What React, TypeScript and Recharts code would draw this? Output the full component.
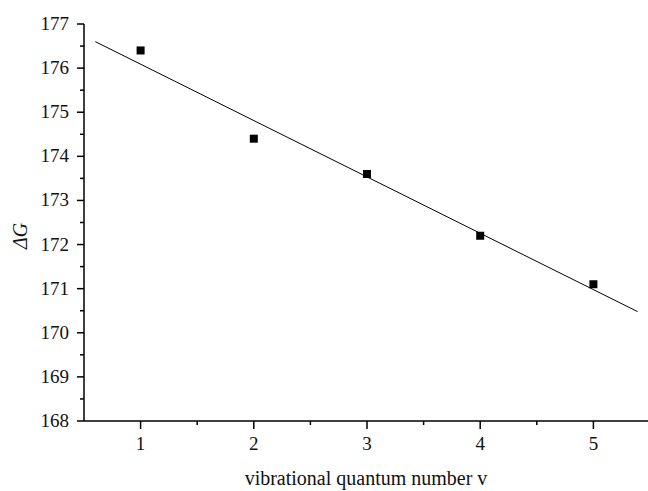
import {Label, Scatter, ScatterChart, XAxis, YAxis} from 'recharts';

const levels = [1, 2, 3, 4, 5];
const deltaG = [176.4, 174.4, 173.6, 172.2, 171.1];
const fitX = [0.6, 5.39];
const fitY = [176.6, 170.48];
const xTicks = [0.5, 1, 1.5, 2, 2.5, 3, 3.5, 4, 4.5, 5, 5.5];
const yTicks = [
  168, 168.5, 169, 169.5, 170, 170.5, 171, 171.5, 172, 172.5, 173, 173.5,
  174, 174.5, 175, 175.5, 176, 176.5, 177,
];

const points = levels.map((v, i) => ({x: v, y: deltaG[i]}));
const fitLine = fitX.map((v, i) => ({x: v, y: fitY[i]}));

const textStyle = {fontFamily: "'Liberation Serif', serif", fill: '#111'};

function XTick({x, y, payload}: any) {
  const major = Number.isInteger(payload.value);
  if (payload.value < 0.75 || payload.value > 5.25) return null;
  return (
    <g>
      <line x1={x} x2={x} y1={y} y2={y + (major ? 8 : 4)} stroke="#000" strokeWidth={1.5} />
      {major && (
        <text x={x} y={y + 29} textAnchor="middle" fontSize={19} style={textStyle}>
          {payload.value}
        </text>
      )}
    </g>
  );
}

function YTick({x, y, payload}: any) {
  const major = Number.isInteger(payload.value);
  return (
    <g>
      <line x1={x} x2={x - (major ? 7 : 4)} y1={y} y2={y} stroke="#000" strokeWidth={1.5} />
      {major && (
        <text x={x - 15} y={y + 6} textAnchor="end" fontSize={19} style={textStyle}>
          {payload.value}
        </text>
      )}
    </g>
  );
}

const square = (props: any) => (
  <rect x={props.cx - 4} y={props.cy - 4} width={8} height={8} fill="#000" />
);

export default function App() {
  return (
    <div
      style={{
        position: 'absolute',
        left: 0,
        top: 0,
        width: 648,
        height: 491,
        overflow: 'hidden',
        background: '#fff',
      }}
    >
      <ScatterChart width={650} height={491} margin={{top: 24, right: 0, bottom: 0, left: 0}}>
        <XAxis
          type="number"
          dataKey="x"
          domain={[0.5, 5.5]}
          ticks={xTicks}
          interval={0}
          height={70}
          tickSize={0}
          tickMargin={0}
          tickLine={false}
          tick={<XTick />}
          axisLine={{stroke: '#000', strokeWidth: 1.5}}
        >
          <Label
            content={() => (
              <text x={366} y={485} textAnchor="middle" fontSize={20} style={textStyle}>
                vibrational quantum number v
              </text>
            )}
          />
        </XAxis>
        <YAxis
          type="number"
          dataKey="y"
          domain={[168, 177]}
          ticks={yTicks}
          interval={0}
          width={84}
          tickSize={0}
          tickMargin={0}
          tickLine={false}
          tick={<YTick />}
          axisLine={{stroke: '#000', strokeWidth: 1.5}}
        >
          <Label
            content={() => (
              <text
                x={27}
                y={236}
                textAnchor="middle"
                transform="rotate(-90 27 236)"
                fontStyle="italic"
                fontSize={20}
                style={textStyle}
              >
                ΔG
              </text>
            )}
          />
        </YAxis>
        <Scatter
          data={fitLine}
          line={{stroke: '#000', strokeWidth: 1}}
          shape={() => null}
          isAnimationActive={false}
        />
        <Scatter data={points} shape={square} isAnimationActive={false} />
      </ScatterChart>
    </div>
  );
}
